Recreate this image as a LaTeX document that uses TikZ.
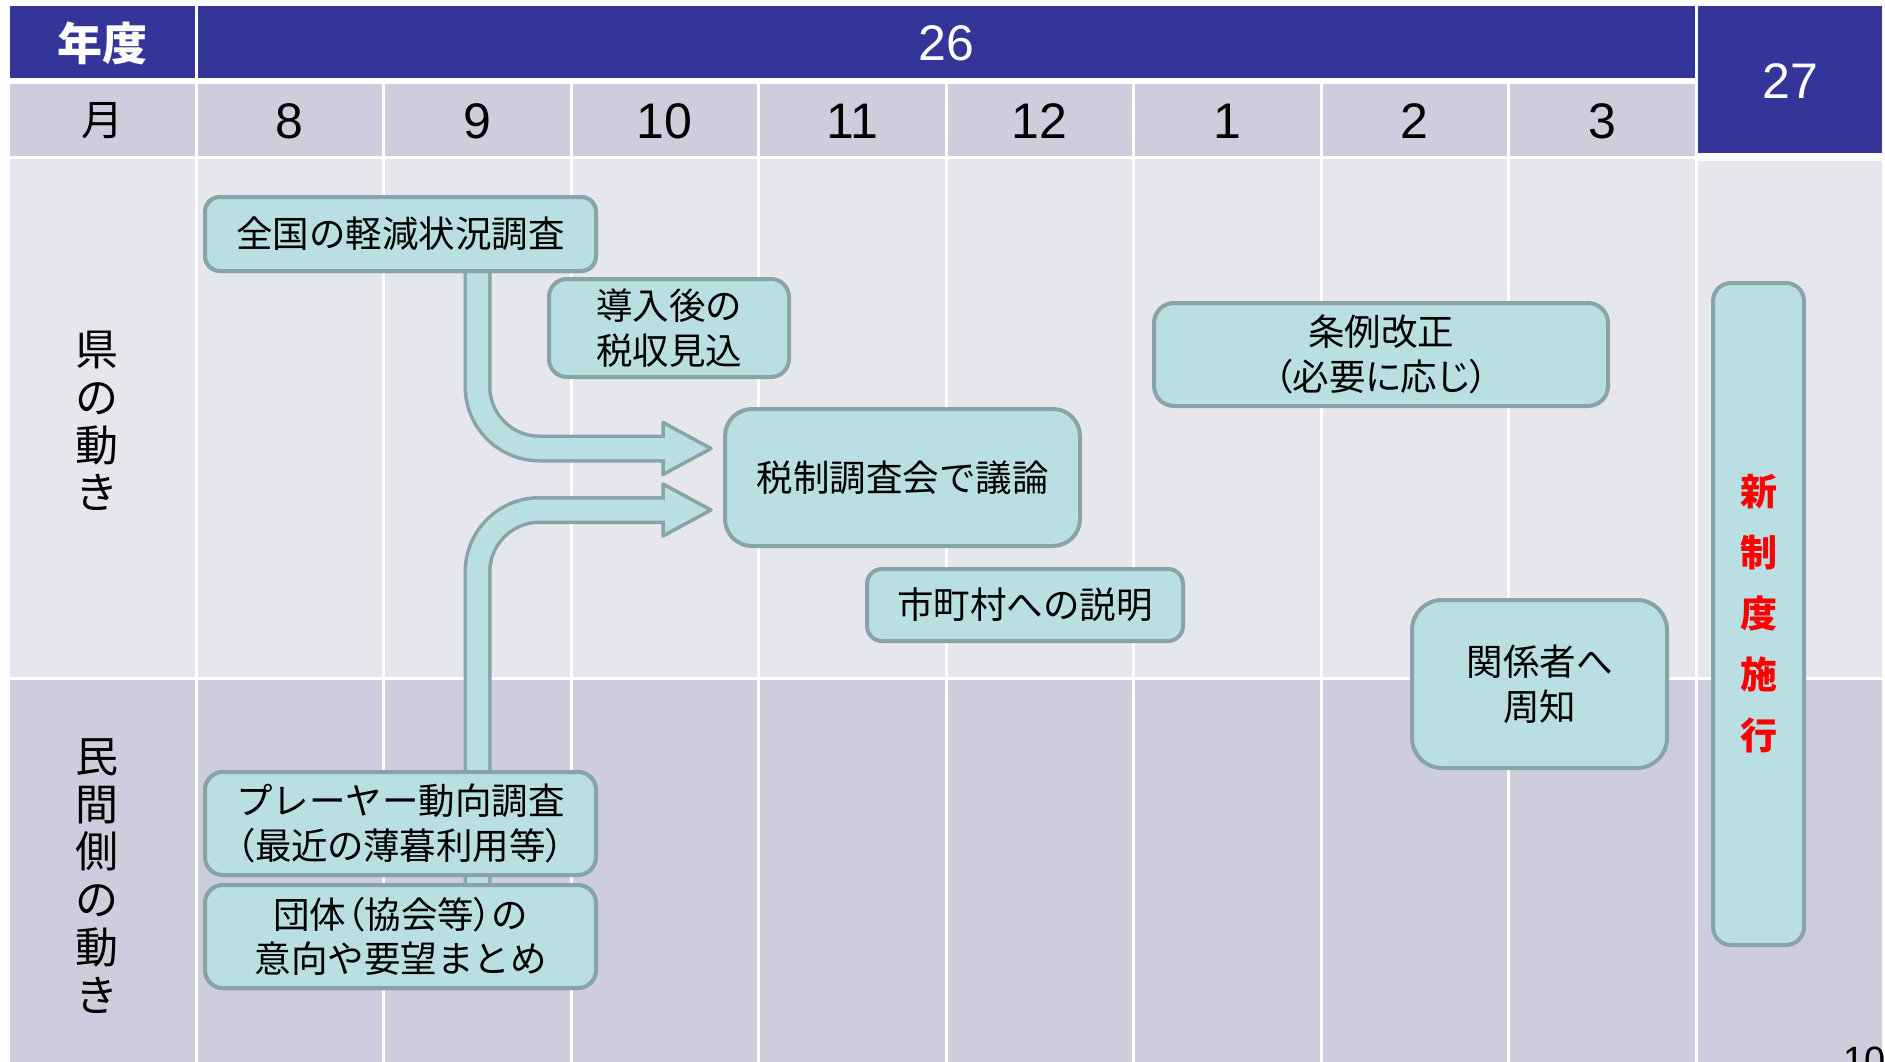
\documentclass[tikz,border=0pt]{standalone}
\usepackage{fontspec}
\newfontfamily\jp{Noto Sans CJK JP}
\newfontfamily\jpp{Noto Sans CJK JP}[RawFeature={+palt}]
\newfontfamily\num{Liberation Sans}
\usetikzlibrary{calc}
\definecolor{hdr}{RGB}{52,53,152}
\definecolor{mrow}{RGB}{205,205,222}
\definecolor{upbody}{RGB}{230,231,238}
\definecolor{lowbody}{RGB}{206,205,222}
\definecolor{boxfill}{RGB}{185,223,226}
\definecolor{boxline}{RGB}{136,164,166}
\begin{document}
\begin{tikzpicture}[x=1pt,y=-1pt,
  box/.style={draw=boxline, fill=boxfill, line width=4pt, align=center, inner sep=0pt,
    font=\jp\fontsize{36.5}{44.5}\selectfont, text=black},
  hdrtxt/.style={inner sep=0pt, text=white, font=\jp\bfseries\fontsize{45}{45}\selectfont},
  numw/.style={inner sep=0pt, text=white, font=\num\fontsize{50}{50}\selectfont},
  numk/.style={inner sep=0pt, text=black, font=\num\fontsize{50}{50}\selectfont},
  sidelbl/.style={inner sep=0pt, align=center, text=black, font=\jp\fontsize{43}{47.8}\selectfont},
  gridline/.style={white, line width=3pt},
  shaftout/.style={boxline, line width=28pt, rounded corners=62pt},
  shaftin/.style={boxfill, line width=21pt, rounded corners=62pt},
  headshape/.style={fill=boxfill, draw=boxline, line width=3.5pt, line join=round}
]
\fill[white] (0,0) rectangle (1885,1062);
\useasboundingbox (0,0) rectangle (1885,1062);
% table backgrounds
\fill[hdr] (10,6) rectangle (1695,78);
\fill[hdr] (1697.5,6) rectangle (1882,153.5);
\fill[mrow] (10,84) rectangle (1694.5,156);
\fill[upbody] (10,159) rectangle (1882,677);
\fill[lowbody] (10,679.5) rectangle (1882,1070);
\fill[white] (1694.5,153.5) rectangle (1885,161.5);
% grid lines
\draw[gridline] (196,0) -- (196,1070);
\draw[gridline] (1696,0) -- (1696,1070);
\foreach \xx in {383.5,571,758.5,946,1133.5,1321,1508.5}
  \draw[gridline] (\xx,80) -- (\xx,1070);
% header texts
\node[hdrtxt] (nendo) at (102,43) {年度};
\node[numw] (y26) at (946,43) {26};
\node[numw] (y27) at (1790,81) {27};
\node[inner sep=0pt, font=\jp\fontsize{42}{42}\selectfont] (tsuki) at (102,121) {月};
\node[numk] (m8) at (289.75,121) {8};
\node[numk] (m9) at (477.25,121) {9};
\node[numk] (m10) at (664.75,121) {10};
\node[numk] (m11) at (852.25,121) {11};
\node[numk] (m12) at (1039.75,121) {12};
\node[numk] (m1) at (1227.25,121) {1};
\node[numk] (m2) at (1414.75,121) {2};
\node[numk] (m3) at (1602.25,121) {3};
% side labels
\node[sidelbl] (ken) at (97,421) {県\\の\\動\\き};
\node[sidelbl] (minkan) at (97,876) {民\\間\\側\\の\\動\\き};
% boxes
\node[box, minimum width=391pt, minimum height=74pt, rounded corners=15pt] (box1) at (400.5,234) {全国の軽減状況調査};
\node[box, minimum width=240pt, minimum height=98pt, rounded corners=18pt] (box2) at (669,328) {導入後の\\税収見込};
\node[box, minimum width=355pt, minimum height=137pt, rounded corners=27pt] (box3) at (902.5,477.5) {税制調査会で議論};
\node[box, minimum width=391pt, minimum height=103pt, rounded corners=18pt] (box8) at (400.5,823.5) {プレーヤー動向調査\\{\jpp（最近の薄暮利用等）}};
\node[box, minimum width=391pt, minimum height=103pt, rounded corners=18pt] (box9) at (400.5,936.5) {{\jpp 団体（協会等）の}\\意向や要望まとめ};
% arrows (drawn under the boxes they start from)
\coordinate (a1s) at ($(box1.south)+(77,-12)$);
\coordinate (a1e) at ($(box3.west)+(-54,-29)$);
\coordinate (a2s) at ($(box9.north)+(77,20)$);
\coordinate (a2e) at ($(box3.west)+(-54,32.5)$);
\draw[shaftout] (a1s) |- (a1e);
\draw[headshape] ($(box3.west)+(-60,-55)$) -- ($(box3.west)+(-12,-29)$) -- ($(box3.west)+(-60,-3)$) -- cycle;
\draw[shaftin] (a1s) |- (a1e);
\draw[shaftout] (a2s) |- (a2e);
\draw[headshape] ($(box3.west)+(-60,6.5)$) -- ($(box3.west)+(-12,32.5)$) -- ($(box3.west)+(-60,58.5)$) -- cycle;
\draw[shaftin] (a2s) |- (a2e);
% redraw boxes over arrow ends
\node[box, minimum width=391pt, minimum height=74pt, rounded corners=15pt] at (box1) {全国の軽減状況調査};
\node[box, minimum width=391pt, minimum height=103pt, rounded corners=18pt] at (box8) {プレーヤー動向調査\\{\jpp（最近の薄暮利用等）}};
\node[box, minimum width=391pt, minimum height=103pt, rounded corners=18pt] at (box9) {{\jpp 団体（協会等）の}\\意向や要望まとめ};
\node[box, minimum width=316pt, minimum height=72pt, rounded corners=15pt] (box4) at (1025,605) {市町村への説明};
\node[box, minimum width=454pt, minimum height=103pt, rounded corners=20pt] (box5) at (1381,354.5) {条例改正\\{\jpp（必要に応じ）}};
\node[box, minimum width=255pt, minimum height=168pt, rounded corners=30pt] (box6) at (1539.5,684) {関係者へ\\周知};
\node[box, minimum width=91pt, minimum height=662pt, rounded corners=18pt, text=red,
  font=\jp\bfseries\fontsize{37}{61}\selectfont] (box7) at (1758.5,614) {新\\制\\度\\施\\行};
% page number
\node[anchor=north west, inner sep=0pt, font=\num\fontsize{38}{38}\selectfont] (pg) at (1843,1047) {10};
\end{tikzpicture}
\end{document}
